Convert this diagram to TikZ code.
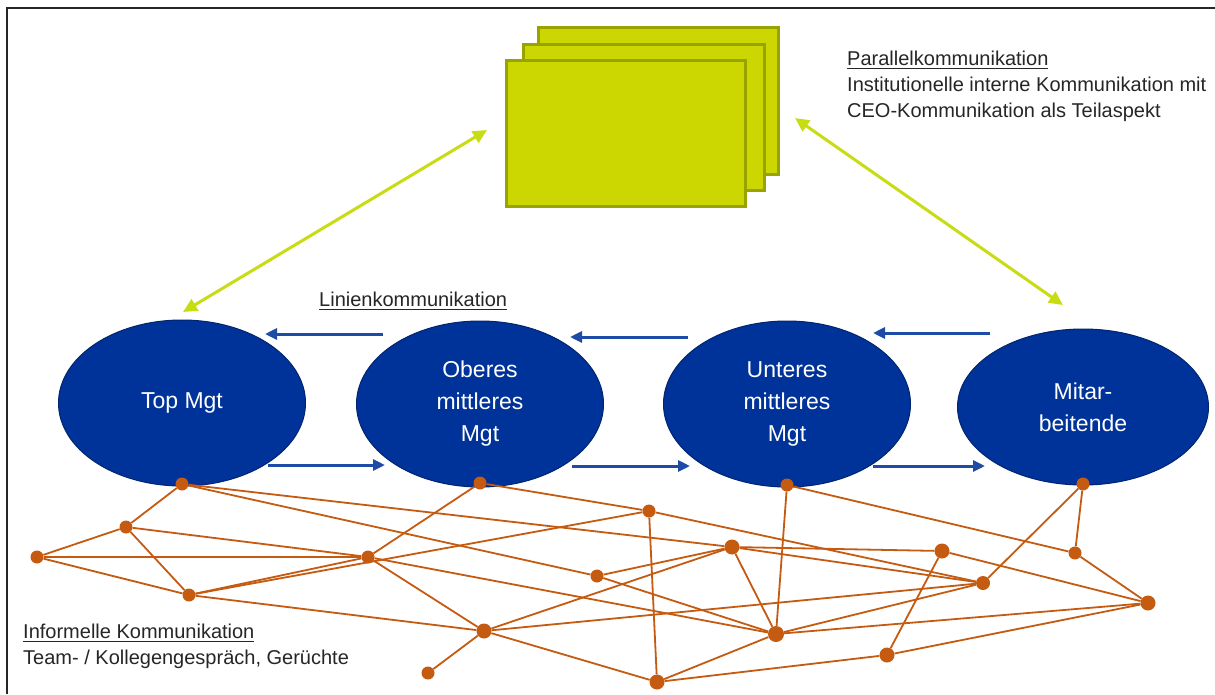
\documentclass[tikz,border=0pt]{standalone}
\usepackage{fontspec}
\setmainfont{Liberation Sans}
\usepackage{tikz}
\usetikzlibrary{shapes.geometric, arrows.meta, positioning}
\usepackage{xcolor}

\definecolor{mgtblue}{RGB}{0,51,153}
\definecolor{mgtedge}{RGB}{0,36,110}
\definecolor{linblue}{RGB}{30,75,165}
\definecolor{stackfill}{RGB}{204,214,0}
\definecolor{stackedge}{RGB}{153,163,0}
\definecolor{paragreen}{RGB}{200,220,20}
\definecolor{infoorange}{RGB}{197,90,17}
\definecolor{textgray}{RGB}{38,38,38}

\newcommand{\ulined}[1]{\setbox0=\hbox{#1}\rlap{\rule[-4pt]{\wd0}{1.4pt}}\box0}

\begin{document}
\begin{tikzpicture}[x=1pt, y=-1pt,
    mgt/.style = {ellipse, draw=mgtedge, fill=mgtblue, line width=1pt, text=white, align=center, font=\fontsize{23}{32}\selectfont, minimum width=247pt, minimum height=166pt, inner sep=0pt},
    sheet/.style = {rectangle, draw=stackedge, fill=stackfill, line width=2.5pt, anchor=north west, inner sep=0pt},
    infdot/.style = {circle, fill=infoorange, inner sep=0pt, minimum size=13pt},
    web/.style = {draw=infoorange, line width=1.8pt},
    linie/.style = {draw=linblue, line width=3pt, -{Triangle[length=12pt, width=11pt]}},
    para/.style = {draw=paragreen, line width=3pt, {Triangle[length=14pt, width=13pt]}-{Triangle[length=14pt, width=13pt]}},
    note/.style = {anchor=base west, text=textgray, font=\fontsize{20}{26}\selectfont, inner sep=0pt}
]
\useasboundingbox (0, 0) rectangle (1215, 694);
\fill [white] (0, 0) rectangle (1215, 694);

% Frame
\draw [line width=2pt, black!85] (7, 694) -- (7, 8) -- (1215, 8);

% Stacked sheets (parallel communication)
\node (sheet_back) [sheet, minimum width=240pt, minimum height=147pt, at={(537, 26)}] {};
\node (sheet_mid) [sheet, minimum width=241pt, minimum height=146pt, at={(522, 43)}] {};
\node (sheet_front) [sheet, minimum width=239pt, minimum height=146pt, at={(505, 59)}] {};

% Hierarchy levels
\node (top) [mgt, at={(182, 403)}] {Top Mgt};
\node (oberes) [mgt, at={(480, 404)}] {Oberes\\mittleres\\Mgt};
\node (unteres) [mgt, at={(787, 404)}] {Unteres\\mittleres\\Mgt};
\node (mitarb) [mgt, minimum width=251pt, minimum height=156pt, at={(1083, 407)}] {Mitar-\\beitende};

% Labels
\node (lin_label) [note, at={(319, 306)}] {\ulined{Linienkommunikation}};
\node (par_title) [note, at={(847, 65)}] {\ulined{Parallelkommunikation}};
\node (par_line1) [note, at={(847, 91)}] {Institutionelle interne Kommunikation mit};
\node (par_line2) [note, at={(847, 117)}] {CEO-Kommunikation als Teilaspekt};
\node (inf_title) [note, at={(23, 638)}] {\ulined{Informelle Kommunikation}};
\node (inf_line1) [note, at={(23, 664)}] {Team- / Kollegengespräch, Gerüchte};

% Parallel communication arrows
\coordinate (par_l) at (487, 130);
\coordinate (par_l_tip) at (183, 312);
\coordinate (par_r) at (795, 118);
\coordinate (par_r_tip) at (1063, 305);
\draw [para] (par_l) -- (par_l_tip);
\draw [para] (par_r) -- (par_r_tip);

% Line communication arrows
\coordinate (up_a) at (383, 334);
\coordinate (up_a_tip) at (265, 334);
\coordinate (up_b) at (688, 337);
\coordinate (up_b_tip) at (570, 337);
\coordinate (up_c) at (990, 333);
\coordinate (up_c_tip) at (873, 333);
\coordinate (down_a) at (268, 465);
\coordinate (down_a_tip) at (385, 465);
\coordinate (down_b) at (572, 466);
\coordinate (down_b_tip) at (690, 466);
\coordinate (down_c) at (873, 466);
\coordinate (down_c_tip) at (985, 466);
\draw [linie] (up_a) -- (up_a_tip);
\draw [linie] (up_b) -- (up_b_tip);
\draw [linie] (up_c) -- (up_c_tip);
\draw [linie] (down_a) -- (down_a_tip);
\draw [linie] (down_b) -- (down_b_tip);
\draw [linie] (down_c) -- (down_c_tip);

% Informal network points
\node (inf_a) [infdot, at={(182, 484)}] {};
\node (inf_b) [infdot, at={(126, 527)}] {};
\node (inf_c) [infdot, at={(37, 557)}] {};
\node (inf_d) [infdot, at={(189, 595)}] {};
\node (inf_e) [infdot, at={(368, 557)}] {};
\node (inf_f) [infdot, at={(480, 483)}] {};
\node (inf_g) [infdot, at={(649, 511)}] {};
\node (inf_h) [infdot, minimum size=15pt, at={(732, 547)}] {};
\node (inf_i) [infdot, at={(597, 576)}] {};
\node (inf_j) [infdot, minimum size=15pt, at={(484, 631)}] {};
\node (inf_k) [infdot, at={(428, 673)}] {};
\node (inf_l) [infdot, minimum size=15pt, at={(657, 682)}] {};
\node (inf_m) [infdot, minimum size=16pt, at={(776, 634)}] {};
\node (inf_n) [infdot, at={(787, 485)}] {};
\node (inf_o) [infdot, minimum size=15pt, at={(942, 551)}] {};
\node (inf_p) [infdot, minimum size=14pt, at={(983, 583)}] {};
\node (inf_q) [infdot, at={(1083, 484)}] {};
\node (inf_r) [infdot, at={(1075, 553)}] {};
\node (inf_s) [infdot, minimum size=15pt, at={(1148, 603)}] {};
\node (inf_t) [infdot, minimum size=15pt, at={(887, 655)}] {};

% Informal network links
\draw [web] (inf_a) -- (inf_b);
\draw [web] (inf_a) -- (inf_h);
\draw [web] (inf_a) -- (inf_i);
\draw [web] (inf_b) -- (inf_c);
\draw [web] (inf_b) -- (inf_d);
\draw [web] (inf_b) -- (inf_e);
\draw [web] (inf_c) -- (inf_d);
\draw [web] (inf_c) -- (inf_e);
\draw [web] (inf_d) -- (inf_e);
\draw [web] (inf_d) -- (inf_g);
\draw [web] (inf_d) -- (inf_j);
\draw [web] (inf_e) -- (inf_f);
\draw [web] (inf_e) -- (inf_j);
\draw [web] (inf_e) -- (inf_m);
\draw [web] (inf_f) -- (inf_g);
\draw [web] (inf_g) -- (inf_p);
\draw [web] (inf_g) -- (inf_l);
\draw [web] (inf_h) -- (inf_i);
\draw [web] (inf_h) -- (inf_j);
\draw [web] (inf_h) -- (inf_m);
\draw [web] (inf_h) -- (inf_o);
\draw [web] (inf_h) -- (inf_p);
\draw [web] (inf_i) -- (inf_m);
\draw [web] (inf_j) -- (inf_k);
\draw [web] (inf_j) -- (inf_l);
\draw [web] (inf_j) -- (inf_p);
\draw [web] (inf_l) -- (inf_m);
\draw [web] (inf_l) -- (inf_t);
\draw [web] (inf_m) -- (inf_n);
\draw [web] (inf_m) -- (inf_p);
\draw [web] (inf_m) -- (inf_s);
\draw [web] (inf_n) -- (inf_r);
\draw [web] (inf_o) -- (inf_s);
\draw [web] (inf_o) -- (inf_t);
\draw [web] (inf_p) -- (inf_q);
\draw [web] (inf_q) -- (inf_r);
\draw [web] (inf_r) -- (inf_s);
\draw [web] (inf_s) -- (inf_t);

\end{tikzpicture}
\end{document}
